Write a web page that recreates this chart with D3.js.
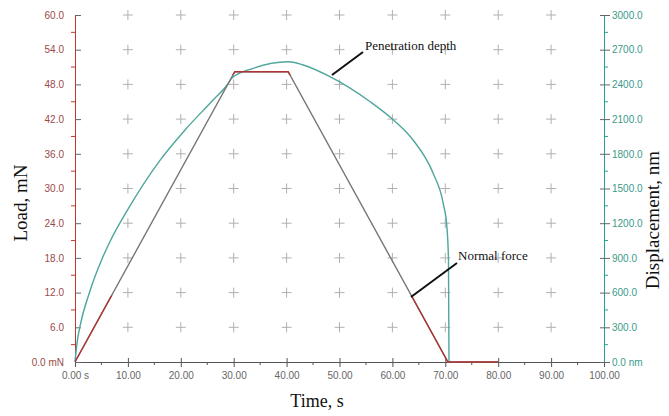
<!DOCTYPE html>
<html>
<head>
<meta charset="utf-8">
<script src="https://cdn.jsdelivr.net/npm/d3@7"></script>
<style>
  body { margin: 0; background: #fff; }
  svg { display: block; }
  .tick text { font-family: "Liberation Sans", Arial, sans-serif; font-size: 10px; }
  .title { font-family: "Liberation Serif", "Times New Roman", serif; fill: #111; }
</style>
</head>
<body>
<svg id="chart" width="669" height="416"></svg>
<script>
// time, s
var timeTicks = [0, 10, 20, 30, 40, 50, 60, 70, 80, 90, 100]
var loadTicks = [0, 6, 12, 18, 24, 30, 36, 42, 48, 54, 60]
var dispTicks = [0, 300, 600, 900, 1200, 1500, 1800, 2100, 2400, 2700, 3000]

// normal force (load), mN
var loadTime = [0, 30.2, 40.3, 70.5, 80]
var loadValue = [0, 50.2, 50.2, 0, 0]

// penetration depth (displacement), nm
var dispTime = [0, 0.4, 1.0, 2.8, 5.0, 6.6, 10.0, 16.1, 20.8, 26.1, 29.0, 29.6, 33.7, 40.3, 43.0, 48.2, 55.8, 60.2, 63.9, 67.7, 69.6, 70.3, 70.6, 70.7]
var dispValue = [0, 170, 320, 610, 880, 1040, 1320, 1746, 2006, 2265, 2410, 2453, 2539, 2596, 2570, 2467, 2250, 2092, 1919, 1631, 1372, 1170, 882, 0]

var margin = { top: 15, left: 75, bottom: 54, right: 65 }
var svgWidth = 669, svgHeight = 416
var width = svgWidth - margin.left - margin.right
var height = svgHeight - margin.top - margin.bottom

var X_scale = d3.scaleLinear().domain([0, 100]).range([0, width])
var Y_load = d3.scaleLinear().domain([0, 60]).range([height, 0])
var Y_disp = d3.scaleLinear().domain([0, 3000]).range([height, 0])

var svg = d3.select("#chart")
var g = svg.append("g").attr("transform", `translate(${margin.left},${margin.top})`)

// grid crosses
var crossX = timeTicks.filter(function (d) { return d > 0 && d < 100 })
var crossY = loadTicks.filter(function (d) { return d > 0 })
var crosses = []
crossX.forEach(function (x) { crossY.forEach(function (y) { crosses.push([x, y]) }) })
var cg = g.append("g").attr("stroke", "#b0b0b0").attr("stroke-width", 1)
cg.selectAll("path").data(crosses).join("path")
    .attr("d", function (d) {
        var cx = X_scale(d[0]), cy = Y_load(d[1])
        return `M${cx - 5},${cy}H${cx + 5}M${cx},${cy - 5}V${cy + 5}`
    })

// axes
var xAxis = g.append("g")
    .attr("transform", `translate(0,${height})`)
    .call(d3.axisBottom(X_scale).tickValues(timeTicks).tickSizeInner(5).tickSizeOuter(0)
        .tickFormat(function (d) { return d === 0 ? "0.00 s" : d3.format(".2f")(d) }))
xAxis.select(".domain").attr("stroke", "#555")
xAxis.selectAll(".tick line").attr("stroke", "#555").attr("y1", -4)
xAxis.selectAll(".tick text").attr("fill", "#666").attr("dy", "0.9em")
xAxis.selectAll(".minor").data(d3.range(5, 100, 10)).join("line")
    .attr("stroke", "#555").attr("x1", X_scale).attr("x2", X_scale).attr("y1", 0).attr("y2", 3)

var yAxisL = g.append("g")
    .call(d3.axisLeft(Y_load).tickValues(loadTicks).tickSizeInner(6).tickSizeOuter(0)
        .tickFormat(function (d) { return d === 0 ? "0.0 mN" : d3.format(".1f")(d) }))
yAxisL.select(".domain").attr("stroke", "#c0392b")
yAxisL.selectAll(".tick line").attr("stroke", "#666").attr("x2", 6)
yAxisL.selectAll(".tick text").attr("fill", "#9a4a4a").attr("x", -11)
yAxisL.selectAll(".minor").data(d3.range(3, 60, 6)).join("line")
    .attr("stroke", "#c0392b").attr("y1", Y_load).attr("y2", Y_load).attr("x1", -4).attr("x2", 0)

var yAxisR = g.append("g")
    .attr("transform", `translate(${width},0)`)
    .call(d3.axisRight(Y_disp).tickValues(dispTicks).tickSizeInner(6).tickSizeOuter(0)
        .tickFormat(function (d) { return d === 0 ? "0.0 nm" : d3.format(".1f")(d) }))
yAxisR.select(".domain").attr("stroke", "#2aa198")
yAxisR.selectAll(".tick line").attr("stroke", "#666").attr("x1", -4)
yAxisR.selectAll(".tick text").attr("fill", "#3a9a8a").attr("x", 8)
yAxisR.selectAll(".minor").data(d3.range(150, 3000, 300)).join("line")
    .attr("stroke", "#2aa198").attr("y1", Y_disp).attr("y2", Y_disp).attr("x1", 0).attr("x2", 4)

// curves
var dispLine = d3.line()
    .x(function (d, i) { return X_scale(dispTime[i]) })
    .y(function (d) { return Y_disp(d) })
    .curve(d3.curveMonotoneX)
g.append("path").datum(dispValue)
    .attr("d", dispLine).attr("fill", "none").attr("stroke", "#4ea69d").attr("stroke-width", 1.4)

var loadLine = d3.line()
    .x(function (d, i) { return X_scale(loadTime[i]) })
    .y(function (d) { return Y_load(d) })
g.append("path").datum(loadValue)
    .attr("d", loadLine).attr("fill", "none").attr("stroke", "#777").attr("stroke-width", 1.4)

// red parts of the load trace (low load and holding segment)
var clip = g.append("clipPath").attr("id", "redClip")
clip.append("rect").attr("x", 0).attr("width", width).attr("y", Y_load(11.5)).attr("height", height - Y_load(11.5) + 3)
clip.append("rect").attr("x", 0).attr("width", width).attr("y", Y_load(51)).attr("height", Y_load(49.6) - Y_load(51))
g.append("path").datum(loadValue)
    .attr("d", loadLine).attr("fill", "none").attr("stroke", "#b03535").attr("stroke-width", 1.4)
    .attr("clip-path", "url(#redClip)")

// annotations
svg.append("line").attr("x1", 332).attr("y1", 75).attr("x2", 363).attr("y2", 52)
    .attr("stroke", "#111").attr("stroke-width", 2)
svg.append("text").attr("class", "title").attr("x", 365).attr("y", 50)
    .style("font-size", "13px").text("Penetration depth")
svg.append("line").attr("x1", 411).attr("y1", 297).attr("x2", 457).attr("y2", 263)
    .attr("stroke", "#111").attr("stroke-width", 2)
svg.append("text").attr("class", "title").attr("x", 458).attr("y", 260)
    .style("font-size", "13px").text("Normal force")

// axis titles
svg.append("text").attr("class", "title")
    .attr("transform", "translate(27,203) rotate(-90)").attr("text-anchor", "middle")
    .style("font-size", "19px").text("Load, mN")
svg.append("text").attr("class", "title")
    .attr("transform", "translate(659,220) rotate(-90)").attr("text-anchor", "middle")
    .style("font-size", "19px").text("Displacement, nm")
svg.append("text").attr("class", "title")
    .attr("x", 317).attr("y", 407).attr("text-anchor", "middle")
    .style("font-size", "18px").text("Time, s")
</script>
</body>
</html>
